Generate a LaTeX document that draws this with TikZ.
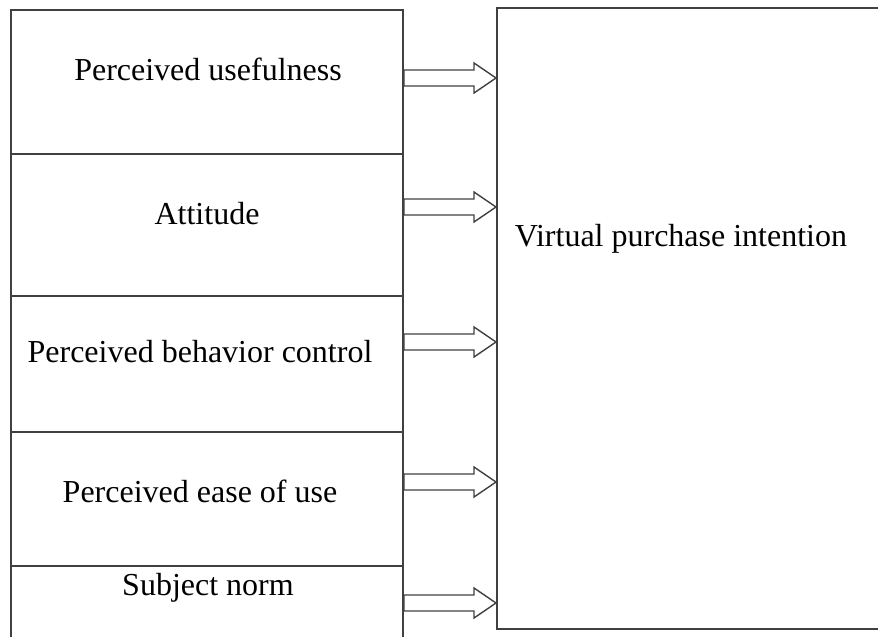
\documentclass[tikz,border=0pt]{standalone}
\usepackage{fontspec}
\setmainfont{Liberation Serif}
\usepackage{tikz}
\usetikzlibrary{%
    calc,%
    positioning%
}
\definecolor{linegray}{rgb}{0.25,0.25,0.25}

\begin{document}
\begin{tikzpicture}[
  x=0.5pt, y=-0.5pt,
  cell/.style={draw=linegray, line width=1pt, rectangle,
    minimum width=196pt, inner sep=0pt},
  target/.style={draw=linegray, line width=1pt, rectangle,
    minimum width=196.5pt, minimum height=310.5pt, inner sep=0pt},
  txt/.style={font=\fontsize{16}{19}\selectfont, inner sep=0pt},
  blockarrow/.style={
    % Hollow block arrow, drawn as a closed outline between
    % the start point and the tip.
    draw=linegray, line width=0.7pt, line join=miter,
    to path={
      -- ($(\tikztostart)+(0,-8)$)
      -- ($(\tikztotarget)+(-22,-8)$)
      -- ($(\tikztotarget)+(-22,-15)$)
      -- (\tikztotarget)
      -- ($(\tikztotarget)+(-22,15)$)
      -- ($(\tikztotarget)+(-22,8)$)
      -- ($(\tikztostart)+(0,8)$)
      -- cycle}},
  ]
  \clip (0,0) rectangle (878,637);

  % Left column of factors
  \node[cell, minimum height=72pt] (pu)   at (207,82)  {};
  \node[cell, minimum height=71pt] (att)  at (207,225) {};
  \node[cell, minimum height=68pt] (pbc)  at (207,364) {};
  \node[cell, minimum height=67pt] (peou) at (207,499) {};
  \node[cell, minimum height=45pt] (sn)   at (207,611) {};

  \node[txt] (pu-t)   at (208,69)  {Perceived usefulness};
  \node[txt] (att-t)  at (207,214) {Attitude};
  \node[txt] (pbc-t)  at (200,352) {Perceived behavior control};
  \node[txt] (peou-t) at (200,491) {Perceived ease of use};
  \node[txt] (sn-t)   at (208,588) {Subject norm};

  % Outcome
  \node[target] (vpi) at (693.5,318.5) {};
  \node[txt] (vpi-t) at (681,239) {Virtual purchase intention};

  % Arrows
  \foreach \c/\y in {pu/78, att/207, pbc/342, peou/482, sn/603} {
    \path (0,\y) coordinate (h);
    \draw[blockarrow] (\c.east |- h) to (vpi.west |- h);
  }
\end{tikzpicture}
\end{document}
